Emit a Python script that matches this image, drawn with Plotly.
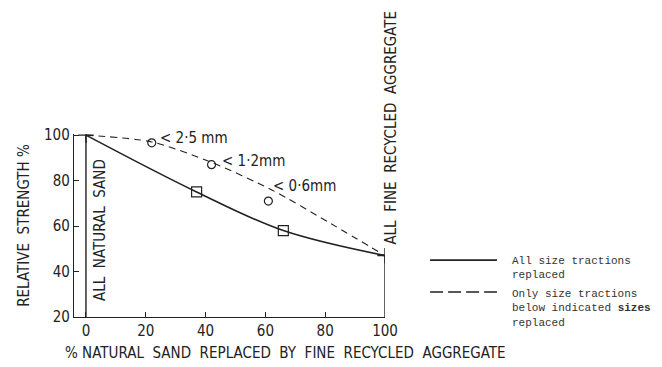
import plotly.graph_objects as go

# --- data ---
x_all = [0, 37, 66, 100]
y_all = [100, 75, 58, 47]

x_part = [0, 22, 42, 62, 82, 100]
y_part = [100, 97, 88, 76, 61, 47]

x_circ = [22, 42, 61]
y_circ = [96.6, 87, 71]
circ_labels = ["< 2·5 mm", "< 1·2mm", "< 0·6mm"]
circ_shift = [(6, 5), (8, 4), (3, 15)]

x_ticks = [0, 20, 40, 60, 80, 100]
y_ticks = [20, 40, 60, 80, 100]

ink = "#222222"
sans = "Liberation Sans Narrow, DejaVu Sans Condensed, Arial Narrow, sans-serif"
mono = "Liberation Mono, Courier New, DejaVu Sans Mono, monospace"

fig = go.Figure()
fig.add_trace(go.Scatter(x=x_all, y=y_all, mode="lines",
                         line=dict(color=ink, width=1.6, shape="spline", smoothing=1.0)))
fig.add_trace(go.Scatter(x=x_part, y=y_part, mode="lines",
                         line=dict(color=ink, width=1.1, dash="7px,5px", shape="spline", smoothing=0.8)))
fig.add_trace(go.Scatter(x=x_all[1:3], y=y_all[1:3], mode="markers",
                         marker=dict(symbol="square-open", size=10, color=ink, line=dict(width=1.2))))
fig.add_trace(go.Scatter(x=x_circ, y=y_circ, mode="markers",
                         marker=dict(symbol="circle-open", size=8, color=ink, line=dict(width=1.2))))
fig.add_trace(go.Scatter(x=[x_all[0], x_all[-1]], y=[y_all[0], y_all[-1]], mode="markers",
                         marker=dict(symbol="cross-thin-open", size=11, color=ink, line=dict(width=1.4, color=ink))))

# vertical boundary lines at 0 % and 100 %
fig.add_shape(type="line", xref="x", yref="y", x0=x_all[0], x1=x_all[0], y0=y_ticks[0], y1=y_all[0],
              line=dict(color=ink, width=1.4))
fig.add_shape(type="line", xref="x", yref="y", x0=x_all[-1], x1=x_all[-1], y0=y_ticks[0], y1=y_all[-1],
              line=dict(color=ink, width=1.4))

for xc, yc, lab, (dx, dy) in zip(x_circ, y_circ, circ_labels, circ_shift):
    fig.add_annotation(x=xc, y=yc, text=lab, showarrow=False, xanchor="left", yanchor="middle",
                       xshift=dx, yshift=dy, font=dict(family=sans, size=15, color=ink))

fig.add_annotation(x=x_all[0], y=y_ticks[0], text="ALL  NATURAL  SAND", textangle=-90, showarrow=False,
                   xanchor="center", yanchor="bottom", xshift=14, yshift=14,
                   font=dict(family=sans, size=15, color=ink))
fig.add_annotation(x=x_all[-1], y=y_all[-1], text="ALL  FINE  RECYCLED  AGGREGATE", textangle=-90,
                   showarrow=False, xanchor="left", yanchor="bottom", xshift=-5, yshift=9,
                   font=dict(family=sans, size=15, color=ink))

fig.add_annotation(xref="paper", yref="paper", x=-0.035, y=-0.197, xanchor="left", yanchor="middle",
                   text="% NATURAL  SAND  REPLACED  BY  FINE  RECYCLED  AGGREGATE", showarrow=False,
                   font=dict(family=sans, size=15, color=ink))

# legend drawn by hand
fig.add_shape(type="line", xref="paper", yref="paper", x0=1.145, x1=1.360, y0=0.311, y1=0.311,
              line=dict(color=ink, width=1.6))
fig.add_shape(type="line", xref="paper", yref="paper", x0=1.145, x1=1.360, y0=0.137, y1=0.137,
              line=dict(color=ink, width=1.6, dash="13px,5px"))
fig.add_annotation(xref="paper", yref="paper", x=1.402, y=0.352, xanchor="left", yanchor="top",
                   align="left", showarrow=False, text="All size tractions<br>replaced",
                   font=dict(family=mono, size=11, color="#333333"))
fig.add_annotation(xref="paper", yref="paper", x=1.402, y=0.172, xanchor="left", yanchor="top",
                   align="left", showarrow=False,
                   text="Only size tractions<br>below indicated <b>sizes</b><br>replaced",
                   font=dict(family=mono, size=11, color="#333333"))

fig.update_layout(
    width=662, height=367,
    margin=dict(l=74, r=277, t=134, b=50),
    paper_bgcolor="white", plot_bgcolor="white",
    showlegend=False,
    font=dict(family=sans, size=15, color=ink),
)
fig.update_xaxes(range=[-4, 100], tickvals=x_ticks, ticks="inside", ticklen=5, tickcolor=ink,
                 showline=True, linecolor=ink, linewidth=1.4, showgrid=False, zeroline=False,
                 tickfont=dict(family=sans, size=15, color=ink))
fig.update_yaxes(range=[20, 100.5], tickvals=y_ticks, ticks="inside", ticklen=5, tickcolor=ink,
                 showline=True, linecolor=ink, linewidth=1.4, showgrid=False, zeroline=False,
                 tickfont=dict(family=sans, size=15, color=ink),
                 title=dict(text="RELATIVE  STRENGTH %", standoff=10,
                            font=dict(family=sans, size=15, color=ink)))

fig.write_html("out.html")
